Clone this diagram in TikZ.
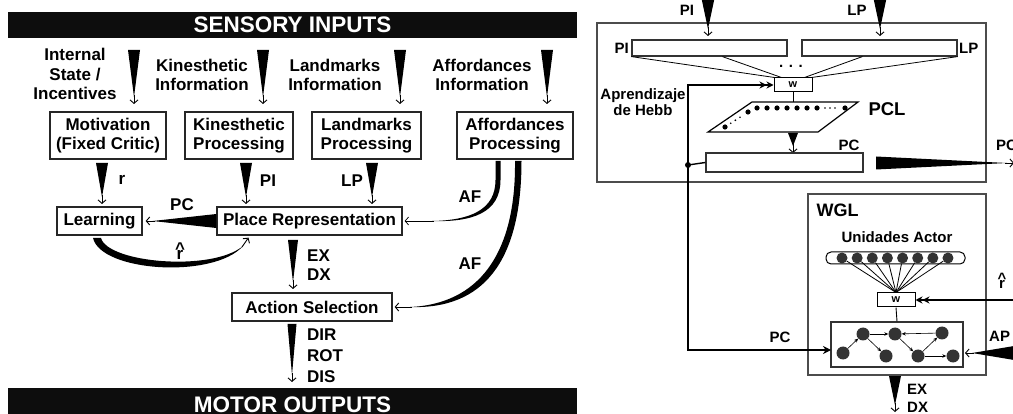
\documentclass[tikz,border=0pt]{standalone}
\usepackage{fontspec}
\setmainfont{Liberation Sans}
\usetikzlibrary{arrows.meta,calc,positioning}

\newcommand{\lblfont}{\fontsize{17}{19.5}\selectfont\bfseries}
\newcommand{\smlfont}{\fontsize{15}{16.5}\selectfont\bfseries}
% tapered arrow: wide at the start, a small barbed tip at the end
\newcommand{\fatarrow}[3][6pt]{%
  \fill ($(#2)!#1!90:(#3)$) -- ($(#2)!#1!-90:(#3)$) -- ($(#3)!7pt!(#2)$) -- cycle;
  \draw[smalltip] ($(#3)!9pt!(#2)$) -- (#3);}
% r with a caret above it
\newcommand{\rhat}[1]{\textasciicircum\\[#1]r}

\tikzset{
  box/.style={draw=black!85, line width=1.3pt, align=center, font=\lblfont, inner sep=0pt},
  frame/.style={draw=black!70, line width=1.2pt, inner sep=0pt},
  bar/.style={fill=black!95, text=white, inner sep=0pt, font=\fontsize{22.5}{24}\selectfont\bfseries},
  lbl/.style={align=center, font=\lblfont, inner sep=0pt},
  sml/.style={align=center, font=\smlfont, inner sep=0pt},
  smalltip/.style={line width=0.9pt, -{Straight Barb[length=3.5pt,width=8pt]}},
  wbox/.style={draw, line width=1pt, minimum width=38pt, minimum height=14pt, inner sep=0pt, font=\fontsize{11}{11}\selectfont\bfseries},
  unit/.style={circle, fill=black!80, inner sep=0pt, minimum size=11pt},
  link/.style={line width=0.6pt, -{Stealth[length=4pt,width=3.5pt]}},
  dblhead/.style={line width=1.6pt, -{Stealth[length=7pt,width=7pt]Stealth[length=7pt,width=7pt]}},
}

\begin{document}
\begin{tikzpicture}[x=1pt,y=-1pt]
  \useasboundingbox (0,0) rectangle (1013,414);

  % ---- left: processing chain
  \node[bar, minimum width=569pt, minimum height=26pt] (sens) at (292.5,25) {SENSORY INPUTS};
  \node[bar, minimum width=569pt, minimum height=34pt] (motor) at (292.5,405) {MOTOR OUTPUTS};

  \node[lbl] (intl) at (75,74) {Internal\\State /\\Incentives};
  \node[lbl] (kinl) at (202,75) {Kinesthetic\\Information};
  \node[lbl] (lanl) at (335,75) {Landmarks\\Information};
  \node[lbl] (affl) at (482,75) {Affordances\\Information};

  \node[box, minimum width=116pt, minimum height=47pt] (motiv) at (108,135.5) {Motivation\\(Fixed Critic)};
  \node[box, minimum width=108pt, minimum height=47pt] (kinp) at (239,135.5) {Kinesthetic\\Processing};
  \node[box, minimum width=109pt, minimum height=47pt] (lanp) at (366.5,135.5) {Landmarks\\Processing};
  \node[box, minimum width=116pt, minimum height=47pt] (affp) at (515,135.5) {Affordances\\Processing};
  \node[box, minimum width=85pt, minimum height=28pt] (learn) at (99.5,221) {Learning};
  \node[box, minimum width=185pt, minimum height=28pt] (place) at (309.5,221) {Place Representation};
  \node[box, minimum width=160pt, minimum height=28pt] (act) at (312,307) {Action Selection};

  \foreach \x [count=\i] in {134,263,400,547} {
    \coordinate (a\i) at (\x,50);
    \coordinate (b\i) at (\x,104);
    \fatarrow{a\i}{b\i}
  }
  \foreach \x [count=\i] in {102,246,372} {
    \coordinate (c\i) at (\x,163);
    \coordinate (d\i) at (\x,204);
    \fatarrow{c\i}{d\i}
  }
  \node[lbl] (rl) at (122,180) {r};
  \node[lbl] (pil) at (268,181) {PI};
  \node[lbl] (lpl) at (352,181) {LP};

  \coordinate (pc0) at (place.west);
  \coordinate (pc1) at ($(learn.east)+(3,0)$);
  \fatarrow[7pt]{pc0}{pc1}
  \node[lbl] (pcl) at (182,205) {PC};

  % reinforcement back to the place layer
  \fill (93,238) .. controls (101,272) and (214,279) .. (243,246)
     -- (243,246) .. controls (212,272) and (108,263) .. (101,238) -- cycle;
  \draw[smalltip] (242,247) -- ($(place.south)+(-61,2)$);
  \node[lbl] (rh) at (180,251) {\rhat{-14pt}};

  \coordinate (ex0) at (293,240);
  \coordinate (ex1) at (293,289);
  \fatarrow[5pt]{ex0}{ex1}
  \node[lbl, anchor=west] (exl) at (307,256) {EX};
  \node[lbl, anchor=west] (dxl) at (307,275) {DX};

  \coordinate (dr0) at (292,324);
  \coordinate (dr1) at (292,382);
  \fatarrow[4.5pt]{dr0}{dr1}
  \node[lbl, anchor=west] (dirl) at (307,335) {DIR};
  \node[lbl, anchor=west] (rotl) at (307,356) {ROT};
  \node[lbl, anchor=west] (disl) at (307,377) {DIS};

  % affordance paths
  \fill (495.5,161) -- (495.5,180) .. controls (495.5,210) and (470,220.3) .. (432,221)
     .. controls (472,222.3) and (500.5,213) .. (500.5,180) -- (500.5,161) -- cycle;
  \draw[smalltip, line width=0.7pt] (434,221) -- ($(place.east)+(2,0)$);
  \node[lbl] (af1) at (470,197) {AF};
  \fill (515,161) .. controls (516,255) and (478,304) .. (410,307)
     .. controls (483,309.5) and (521.5,262) .. (521.5,161) -- cycle;
  \draw[smalltip] (412,307) -- ($(act.east)+(2,0)$);
  \node[lbl] (af2) at (470,264) {AF};

  % ---- right: place cell layer
  \node[frame, minimum width=389pt, minimum height=159pt] (pclbox) at (791.5,102.5) {};
  \coordinate (t1) at (708,-4);
  \coordinate (t2) at (708,36);
  \fatarrow[7pt]{t1}{t2}
  \coordinate (t3) at (880,-4);
  \coordinate (t4) at (880,36);
  \fatarrow[7pt]{t3}{t4}
  \node[sml] (pitop) at (687,10) {PI};
  \node[sml] (lptop) at (857,10) {LP};

  \node[frame, draw=black!80, minimum width=155pt, minimum height=16pt] (pibar) at (709.5,48) {};
  \node[frame, draw=black!80, minimum width=155pt, minimum height=16pt] (lpbar) at (879.5,48) {};
  \node[sml, anchor=east] (pin) at (629,48) {PI};
  \node[sml, anchor=west] (lpn) at (959,48) {LP};
  \node[wbox] (w1) at (793,85) {w};
  \node[sml] (dots) at (791,66) {. . .};
  \draw[line width=0.8pt] (pibar.south west) -- ($(w1.north west)+(1,0)$);
  \draw[line width=0.8pt] ($(pibar.south west)+(91,0)$) -- ($(w1.north west)+(8,0)$);
  \draw[line width=0.8pt] ($(lpbar.south west)+(61,0)$) -- ($(w1.north east)+(-8,0)$);
  \draw[line width=0.8pt] (lpbar.south east) -- ($(w1.north east)+(-1,0)$);

  \node[sml] (hebb) at (643,102) {Aprendizaje\\de Hebb};
  \coordinate (pcltop) at (793,102);
  \draw[line width=0.9pt] (w1.south) -- (pcltop);
  \draw[line width=1.2pt] (752,102) -- (858,102) -- (818,132) -- (708,132) -- cycle;
  \foreach \x in {757,767,...,817} \fill (\x,108) circle (2.6pt);
  \foreach \x in {825,830,835} \fill (\x,108) circle (0.9pt);
  \fill (845,108) circle (2.6pt);
  \fill (725,127) circle (2.6pt);
  \fill (748,112) circle (2.6pt);
  \foreach \t in {0.25,0.45,0.65} \fill ($(725,127)!\t!(748,112)$) circle (0.9pt);
  \node[font=\fontsize{18.5}{19}\selectfont\bfseries, inner sep=0pt] (pcll) at (887,109) {PCL};

  \coordinate (pa0) at (793,133);
  \coordinate (pa1) at (793,153);
  \fatarrow[5pt]{pa0}{pa1}
  \node[frame, draw=black!80, minimum width=157pt, minimum height=19pt] (pcbar) at (784.5,162.5) {};
  \node[sml] (pcn) at (849,145) {PC};
  \coordinate (po0) at (876,163);
  \coordinate (po1) at (1014,163);
  \fatarrow[6.5pt]{po0}{po1}
  \node[sml, anchor=west] (pcout) at (996,145) {PC};

  % ---- right: world graph layer
  \node[frame, minimum width=178pt, minimum height=181pt] (wglbox) at (897,284.5) {};
  \node[font=\fontsize{18}{19}\selectfont\bfseries, inner sep=0pt] (wgl) at (837.5,210) {WGL};
  \node[sml] (unid) at (897,237) {Unidades Actor};
  \node[draw, rounded corners=5pt, line width=1pt, minimum width=139pt, minimum height=12pt, inner sep=0pt] (actor) at (895.5,258) {};
  \node[wbox] (w2) at (896,300) {w};
  \foreach \i in {0,...,7} {
    \node[unit] (u\i) at (842+15.14*\i,258) {};
    \draw[line width=0.8pt] (u\i) -- (w2.north);
  }
  \node[frame, draw=black!80, minimum width=132pt, minimum height=45pt] (gbox) at (897,344.5) {};
  \draw[line width=0.9pt] (w2.south) -- (gbox.north);
  \coordinate (rr) at (1016,300);
  \draw[dblhead] (rr) -- (w2.east);
  \node[sml] (rhr) at (1002,281) {\rhat{-12pt}};

  \node[unit, minimum size=13pt] (n1) at (843,353) {};
  \node[unit, minimum size=13pt] (n2) at (863,334) {};
  \node[unit, minimum size=13pt] (n3) at (895,334) {};
  \node[unit, minimum size=13pt] (n4) at (942,333) {};
  \node[unit, minimum size=13pt] (n5) at (886,356) {};
  \node[unit, minimum size=13pt] (n6) at (918,356) {};
  \node[unit, minimum size=13pt] (n7) at (953,356) {};
  \draw[link] (n1) -- (n2);
  \draw[link] (n2) -- (n3);
  \draw[link] (n4) -- (n3);
  \draw[link] (n2) -- (n5);
  \draw[link] (n3) -- (n6);
  \draw[link] (n6) -- (n4);
  \draw[link] (n6) -- (n7);

  % Hebbian input path and place cell output
  \coordinate (gin) at (831,350);
  \coordinate (hj) at (688,165);
  \draw[line width=1.6pt, {Stealth[length=8pt,width=8pt]}-{Stealth[length=7pt,width=7pt]Stealth[length=7pt,width=7pt]}]
    (gin) -| (hj) |- (w1.west);
  \fill (hj) circle (3pt);
  \draw[line width=1.4pt] (hj) -- (pcbar.west);
  \node[sml] (pcin) at (780,337) {PC};

  \coordinate (ap0) at (1020,353);
  \coordinate (ap1) at (965,353);
  \fatarrow[8pt]{ap0}{ap1}
  \node[sml, anchor=west] (apl) at (989,336) {AP};

  \coordinate (eo0) at (895,376);
  \coordinate (eo1) at (895,412);
  \fatarrow[6pt]{eo0}{eo1}
  \node[sml, anchor=west] (exo) at (907,389) {EX};
  \node[sml, anchor=west] (dxo) at (907,407) {DX};
\end{tikzpicture}
\end{document}
